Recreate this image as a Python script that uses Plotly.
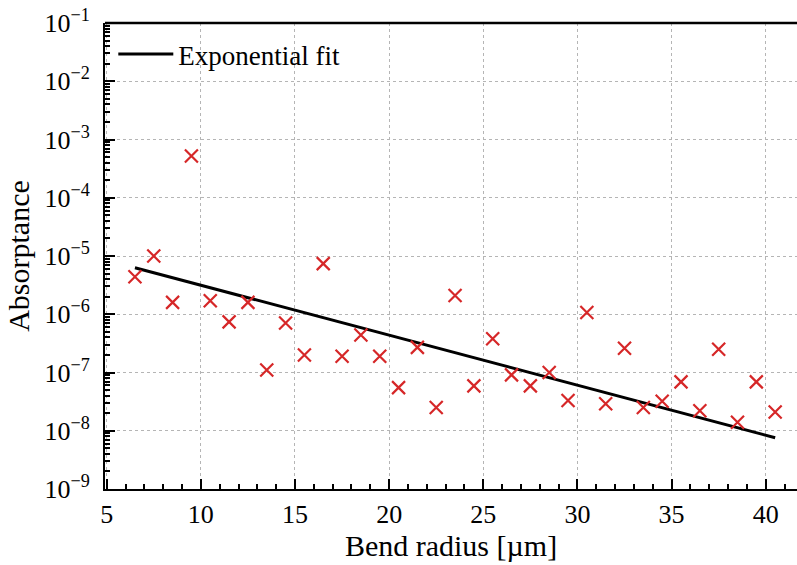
import plotly.graph_objects as go

# Data
bend_radius = [6.5, 7.5, 8.5, 9.5, 10.5, 11.5, 12.5, 13.5, 14.5, 15.5, 16.5, 17.5,
               18.5, 19.5, 20.5, 21.5, 22.5, 23.5, 24.5, 25.5, 26.5, 27.5, 28.5,
               29.5, 30.5, 31.5, 32.5, 33.5, 34.5, 35.5, 36.5, 37.5, 38.5, 39.5, 40.5]
absorptance = [4.4e-6, 1.0e-5, 1.6e-6, 5.2e-4, 1.7e-6, 7.4e-7, 1.6e-6, 1.1e-7, 7.1e-7,
               2.0e-7, 7.4e-6, 1.9e-7, 4.4e-7, 1.9e-7, 5.5e-8, 2.7e-7, 2.5e-8, 2.1e-6,
               5.9e-8, 3.8e-7, 9.1e-8, 5.9e-8, 1.0e-7, 3.3e-8, 1.07e-6, 2.9e-8, 2.6e-7,
               2.5e-8, 3.2e-8, 6.9e-8, 2.2e-8, 2.5e-7, 1.4e-8, 6.9e-8, 2.1e-8]
fit_x = [6.5, 40.5]
fit_y = [6.3e-6, 7.6e-9]

x_ticks = [5, 10, 15, 20, 25, 30, 35, 40]
y_exponents = [-9, -8, -7, -6, -5, -4, -3, -2, -1]

FONT = "Liberation Serif"
RED = "#d62728"
fig = go.Figure()
fig.add_trace(go.Scatter(
    x=fit_x, y=fit_y, mode="lines", name="Exponential fit",
    line=dict(color="black", width=3),
))
fig.add_trace(go.Scatter(
    x=bend_radius, y=absorptance, mode="markers", showlegend=False,
    marker=dict(symbol="x-thin-open", size=13, color=RED,
                line=dict(color=RED, width=2.2)),
))

y_minor = [k * 10.0 ** d for d in range(-9, -1) for k in range(2, 10)]

fig.update_layout(
    width=797, height=565,
    margin=dict(l=105, r=0, t=23, b=76),
    plot_bgcolor="white", paper_bgcolor="white",
    font=dict(family=FONT, size=25, color="black"),
    legend=dict(x=0.012, y=0.985, xanchor="left", yanchor="top", itemwidth=55,
                bgcolor="rgba(0,0,0,0)", font=dict(size=27)),
    xaxis=dict(
        range=[4.91, 41.66], tickvals=x_ticks, ticktext=[str(v) for v in x_ticks],
        ticks="inside", ticklen=10, tickwidth=2, tickcolor="black",
        showline=True, linecolor="black", linewidth=2,
        showgrid=True, gridcolor="#b5b5b5", gridwidth=1, griddash="dot",
        zeroline=False, ticklabelstandoff=1, tickfont=dict(size=26),
        minor=dict(dtick=1, tick0=0, ticks="inside", ticklen=5, tickwidth=1.5,
                   tickcolor="black", showgrid=False),
        title=dict(text="Bend radius [µm]", standoff=4),
    ),
    yaxis=dict(
        type="log", range=[-9, -1],
        tickvals=[10.0 ** e for e in y_exponents],
        ticktext=["10<sup>\u2212%d</sup>" % (-e) for e in y_exponents],
        ticks="inside", ticklen=10, tickwidth=2, tickcolor="black",
        showline=True, linecolor="black", linewidth=2,
        showgrid=True, gridcolor="#b5b5b5", gridwidth=1, griddash="dot",
        zeroline=False, ticklabelstandoff=8, tickfont=dict(size=26),
        minor=dict(tickvals=y_minor, ticks="inside", ticklen=5, tickwidth=1.5,
                   tickcolor="black", showgrid=False),
        title=dict(text="Absorptance", standoff=6),
    ),
    shapes=[dict(type="line", xref="paper", yref="paper", x0=0, x1=1, y0=1, y1=1,
                 line=dict(color="black", width=2.5))],
)

fig.write_html("out.html")
